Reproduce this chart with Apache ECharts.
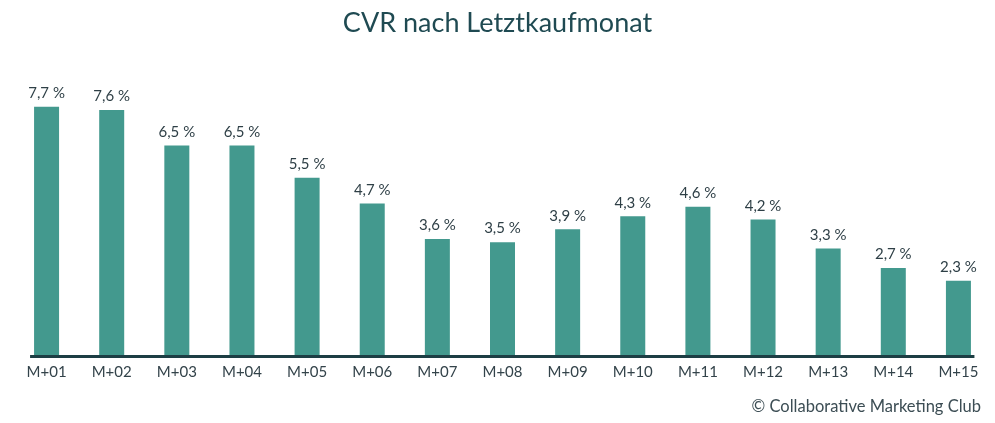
<!DOCTYPE html>
<html>
<head>
<meta charset="utf-8">
<script src="https://cdn.jsdelivr.net/npm/echarts@6/dist/echarts.min.js"></script>
<style>
html,body{margin:0;padding:0;background:#fff;}
#c{width:995px;height:423px;}
</style>
</head>
<body>
<div id="c"></div>
<script>
const categories = ['M+01','M+02','M+03','M+04','M+05','M+06','M+07','M+08','M+09','M+10','M+11','M+12','M+13','M+14','M+15'];
const cvrValues = [7.7, 7.6, 6.5, 6.5, 5.5, 4.7, 3.6, 3.5, 3.9, 4.3, 4.6, 4.2, 3.3, 2.7, 2.3];
const titleText = 'CVR nach Letztkaufmonat';
const sourceText = '© Collaborative Marketing Club';

const FONT = 'Lato, "Noto Sans", sans-serif';
const chart = echarts.init(document.getElementById('c'));
chart.setOption({
  animation: false,
  backgroundColor: '#ffffff',
  title: {
    text: titleText,
    left: 'center',
    top: 5,
    textStyle: {fontFamily: FONT, fontSize: 27, fontWeight: 'normal', color: '#1f4a52'}
  },
  grid: {left: 14, right: 4, top: 97, bottom: 68},
  xAxis: {
    type: 'category',
    data: categories,
    axisLine: {show: false},
    axisTick: {show: false},
    axisLabel: {fontFamily: FONT, fontSize: 15, color: '#33434a', margin: 10}
  },
  yAxis: {
    type: 'value',
    min: 0,
    max: 8,
    show: false,
    splitLine: {show: false}
  },
  series: [{
    type: 'bar',
    data: cvrValues,
    barWidth: 25,
    itemStyle: {color: '#43998e'},
    label: {
      show: true,
      position: 'top',
      distance: 6,
      fontFamily: FONT,
      fontSize: 15,
      color: '#2e3f46',
      formatter: p => p.value.toFixed(1).replace('.', ',') + ' %'
    }
  }]
});

// baseline axis line spanning from first to last category (slightly beyond bars)
const p0 = chart.convertToPixel({xAxisIndex: 0, yAxisIndex: 0}, [0, 0]);
const p1 = chart.convertToPixel({xAxisIndex: 0, yAxisIndex: 0}, [categories.length - 1, 0]);
chart.setOption({
  graphic: [{
    type: 'text',
    right: 14,
    top: 398,
    style: {text: sourceText, font: '16.5px ' + FONT, fill: '#3c4d54'}
  }, {
    type: 'line',
    shape: {x1: p0[0] - 16.5, y1: p0[1] + 1.5, x2: p1[0] + 16, y2: p1[1] + 1.5},
    style: {stroke: '#1d3e44', lineWidth: 3},
    z: 10
  }]
});
</script>
</body>
</html>
